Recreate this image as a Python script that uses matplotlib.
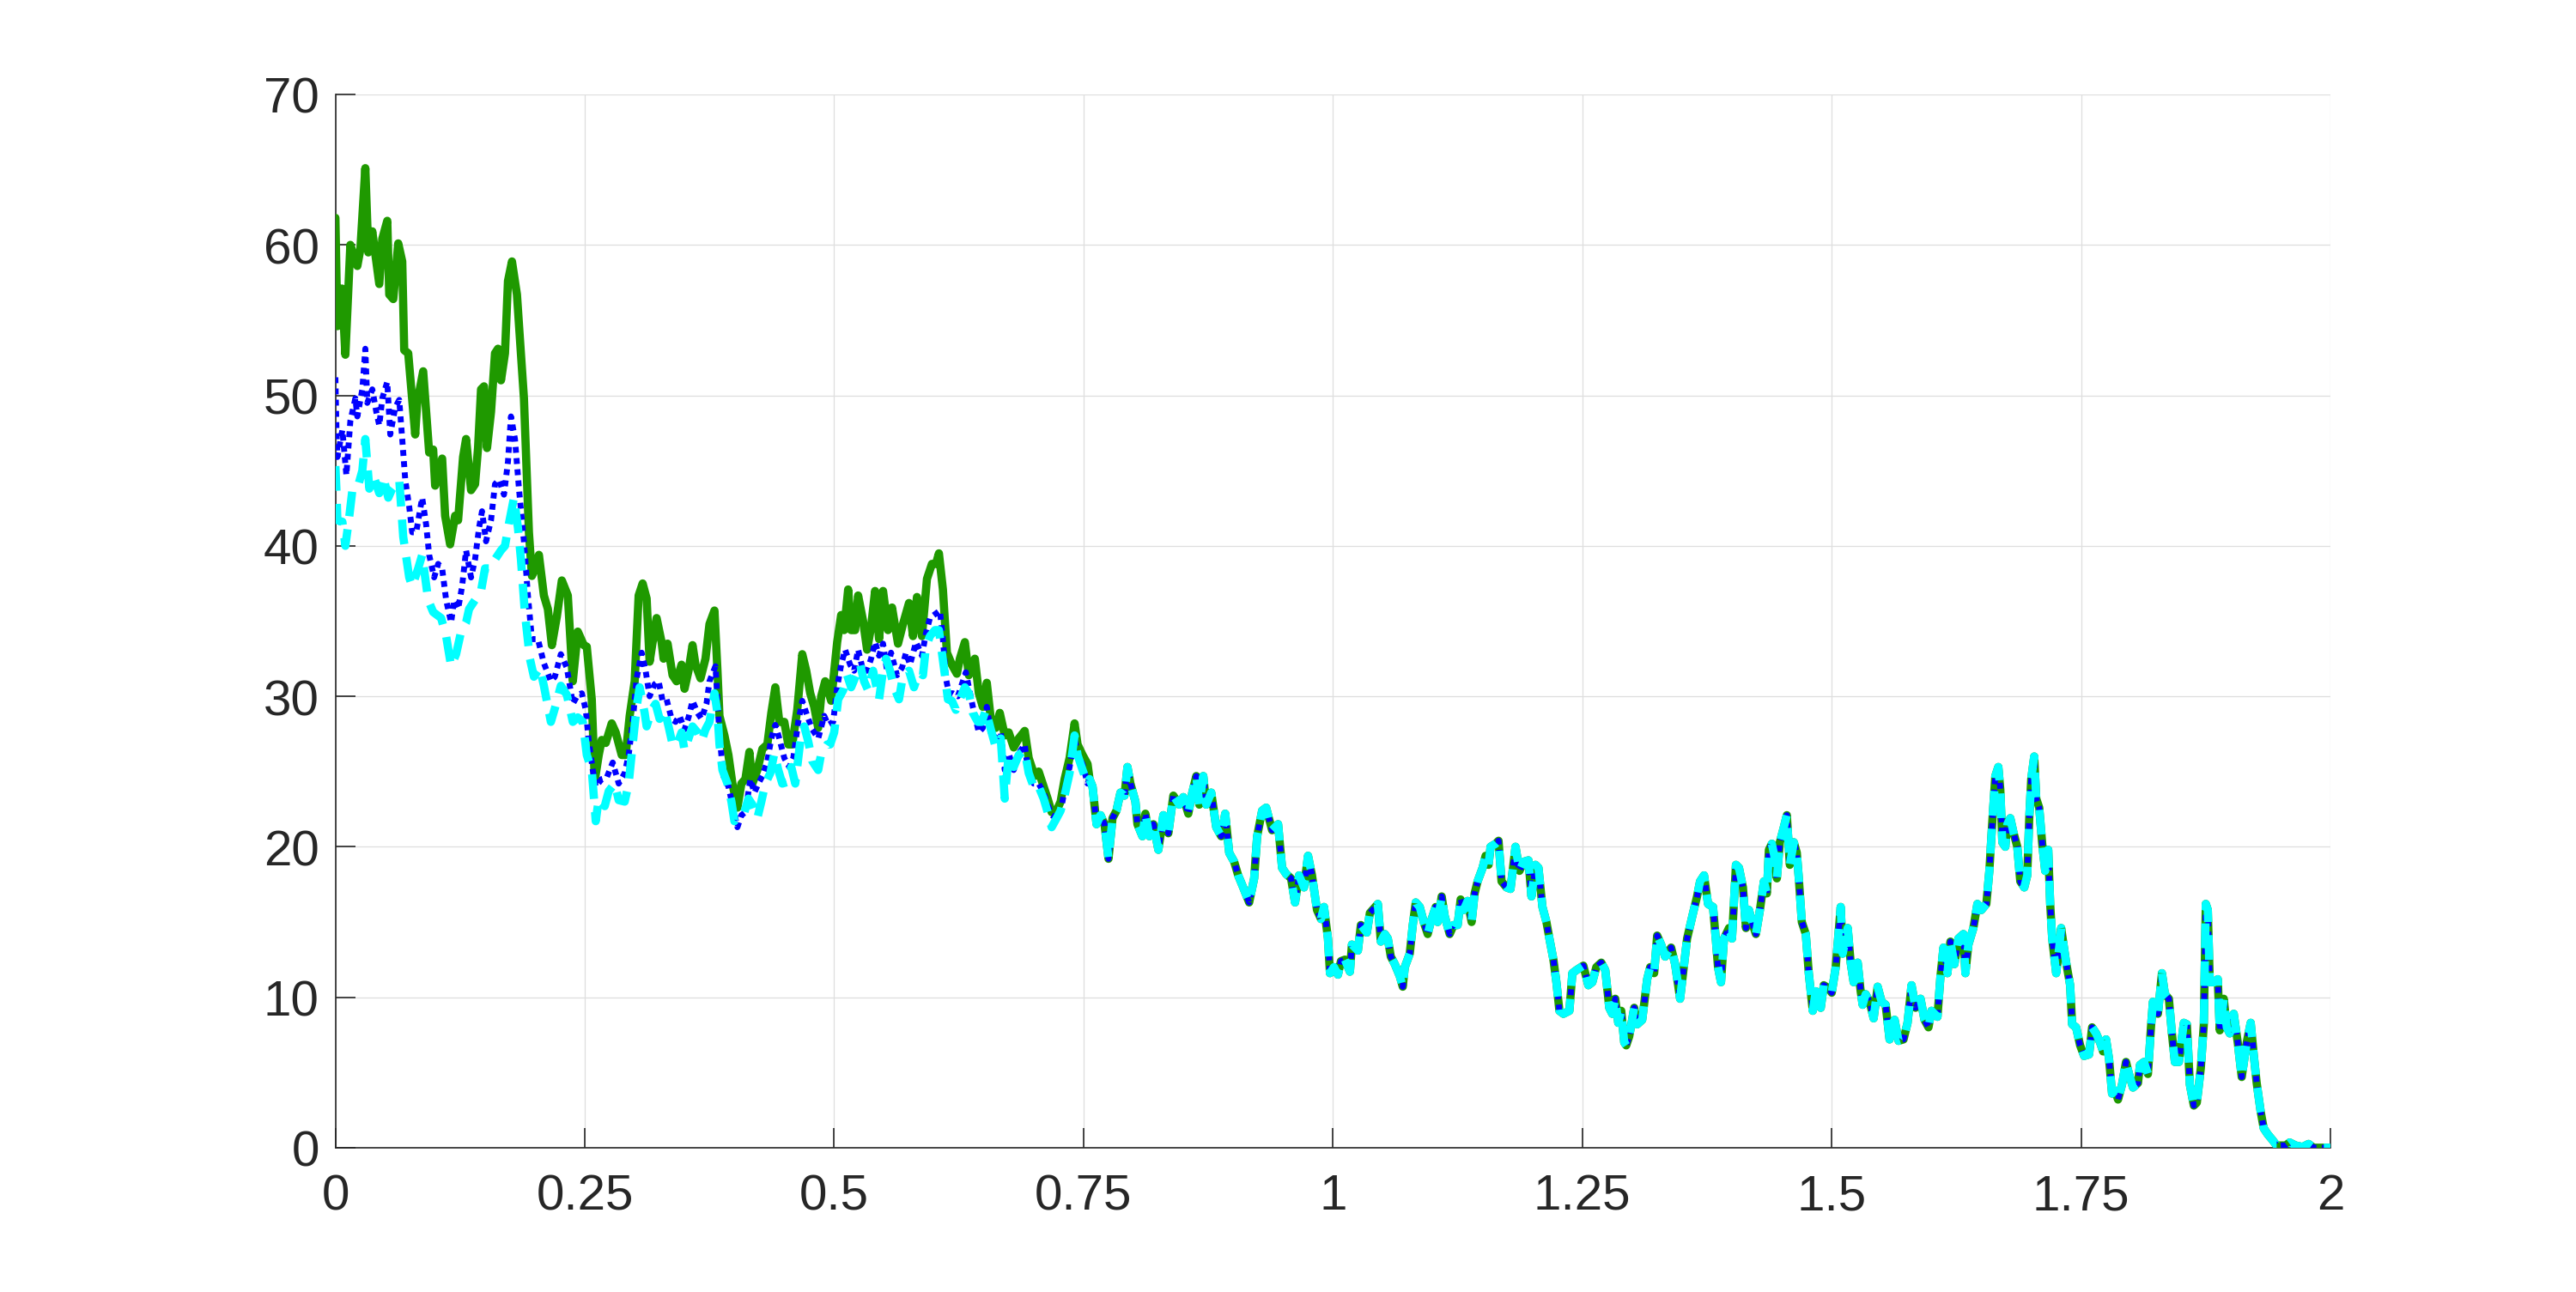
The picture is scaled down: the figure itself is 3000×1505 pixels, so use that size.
import numpy as np
import matplotlib
matplotlib.use('Agg')
import matplotlib.pyplot as plt
from matplotlib.ticker import FuncFormatter

plt.rcParams['font.family'] = ['Liberation Sans', 'DejaVu Sans']

# --- early part, where the three curves differ ---
t_green = [0, 0.002, 0.0066, 0.010, 0.015, 0.022, 0.025, 0.030, 0.033, 0.037, 0.044, 0.047, 0.052,
           0.054, 0.058, 0.063, 0.067, 0.069, 0.073, 0.080, 0.082, 0.088, 0.094, 0.098, 0.100, 0.107,
           0.110, 0.115, 0.120, 0.123, 0.128, 0.131, 0.136, 0.140, 0.143, 0.146, 0.149, 0.152, 0.156,
           0.160, 0.163, 0.166, 0.170, 0.173, 0.177, 0.182, 0.189, 0.194, 0.197, 0.200, 0.204, 0.209,
           0.213, 0.217, 0.222, 0.227, 0.233, 0.238, 0.243, 0.249,
           0.252, 0.257, 0.260, 0.264, 0.267, 0.271, 0.277, 0.281, 0.287, 0.291, 0.295, 0.300, 0.304,
           0.308, 0.312, 0.315, 0.318, 0.322, 0.327, 0.329, 0.333, 0.338, 0.342, 0.347, 0.350, 0.354,
           0.358, 0.361, 0.366, 0.371, 0.375, 0.380, 0.383, 0.385, 0.390, 0.394, 0.398, 0.403, 0.407,
           0.411, 0.415, 0.418, 0.423, 0.428, 0.433, 0.437, 0.441, 0.445, 0.450, 0.454, 0.458, 0.463,
           0.468, 0.472, 0.476, 0.480, 0.484, 0.487, 0.491,
           0.497, 0.503, 0.507, 0.510, 0.514, 0.517, 0.521, 0.524, 0.529, 0.533, 0.537, 0.541, 0.545,
           0.549, 0.554, 0.558, 0.564, 0.569, 0.575, 0.579, 0.583, 0.588, 0.593, 0.598, 0.602, 0.605,
           0.609, 0.613, 0.618, 0.623, 0.626, 0.631, 0.635, 0.641, 0.645, 0.649, 0.653, 0.657, 0.662,
           0.666, 0.671, 0.675, 0.680, 0.685, 0.691, 0.695, 0.701, 0.705, 0.710, 0.714, 0.718, 0.723,
           0.727, 0.731, 0.736, 0.741, 0.744, 0.749, 0.754]
y_green = [61.8, 54.6, 57.1, 52.7, 60.0, 58.6, 59.7, 65.1, 59.5, 60.9, 57.4, 60.4, 61.6,
           56.7, 56.4, 60.1, 58.9, 53.0, 52.8, 47.4, 49.5, 51.6, 46.2, 46.4, 44.0, 45.8,
           42.0, 40.1, 42.0, 41.7, 45.9, 47.1, 43.7, 44.1, 46.5, 50.4, 50.6, 46.5, 48.9,
           52.8, 53.1, 51.0, 52.8, 57.6, 58.9, 56.7, 49.8, 40.9, 38.0, 38.5, 39.4, 36.7,
           35.8, 33.4, 35.3, 37.7, 36.7, 31.0, 34.3, 33.4,
           33.3, 29.8, 24.4, 26.1, 27.1, 26.9, 28.2, 27.6, 26.1, 26.1, 28.7, 31.0, 36.7,
           37.5, 36.5, 32.3, 33.6, 35.2, 33.6, 32.5, 33.5, 31.4, 31.0, 32.1, 30.5, 31.7,
           33.4, 32.1, 31.2, 32.5, 34.8, 35.7, 31.7, 28.7, 27.4, 26.1, 24.2, 22.6, 24.2,
           24.5, 26.3, 24.2, 25.1, 26.5, 26.8, 28.9, 30.6, 28.3, 28.3, 26.8, 26.8, 29.1,
           32.8, 31.7, 30.2, 29.3, 27.9, 30.0, 31.0,
           29.7, 33.6, 35.4, 34.4, 37.1, 34.4, 34.4, 36.7, 35.0, 33.1, 34.6, 37.0, 33.8,
           37.0, 34.4, 35.9, 33.5, 34.8, 36.2, 34.0, 36.6, 34.0, 37.8, 38.8, 38.8, 39.5,
           37.1, 32.9, 32.1, 31.5, 32.5, 33.6, 31.4, 32.5, 30.2, 29.3, 30.9, 28.5, 27.9,
           28.9, 27.4, 27.6, 26.6, 27.2, 27.7, 25.9, 24.7, 25.0, 24.0, 23.2, 22.3, 22.4,
           23.0, 24.5, 25.9, 28.2, 26.8, 26.1, 25.5]

t_blue = [0, 0.001, 0.002, 0.007, 0.011, 0.015, 0.020, 0.022, 0.027, 0.030, 0.032, 0.037, 0.041,
          0.044, 0.047, 0.052, 0.055, 0.060, 0.064, 0.067, 0.070, 0.074, 0.077, 0.081, 0.087, 0.091,
          0.094, 0.099, 0.103, 0.107, 0.111, 0.116, 0.119, 0.123, 0.127, 0.131, 0.136, 0.140, 0.144,
          0.147, 0.151, 0.156, 0.160, 0.164, 0.169, 0.173, 0.176, 0.180, 0.184, 0.189, 0.193, 0.197,
          0.203, 0.209, 0.216, 0.220, 0.226, 0.232, 0.238, 0.243,
          0.247, 0.251, 0.254, 0.258, 0.261, 0.267, 0.272, 0.278, 0.284, 0.290, 0.294, 0.298, 0.302,
          0.307, 0.311, 0.315, 0.320, 0.324, 0.328, 0.332, 0.337, 0.341, 0.345, 0.350, 0.354, 0.358,
          0.363, 0.367, 0.372, 0.375, 0.381, 0.383, 0.385, 0.389, 0.394, 0.398, 0.403, 0.407, 0.411,
          0.416, 0.420, 0.424, 0.428, 0.433, 0.437, 0.441, 0.445, 0.450, 0.455, 0.459, 0.464, 0.468,
          0.473, 0.478, 0.484, 0.490,
          0.494, 0.499, 0.503, 0.507, 0.511, 0.516, 0.520, 0.524, 0.529, 0.533, 0.537, 0.541, 0.545,
          0.549, 0.553, 0.557, 0.563, 0.568, 0.572, 0.576, 0.582, 0.588, 0.592, 0.596, 0.602, 0.606,
          0.609, 0.612, 0.615, 0.619, 0.624, 0.628, 0.632, 0.635, 0.639, 0.645, 0.649, 0.653, 0.657,
          0.662, 0.667, 0.671, 0.675, 0.680, 0.685, 0.691, 0.695, 0.700, 0.705, 0.710, 0.714, 0.718,
          0.723, 0.727, 0.731, 0.736, 0.741, 0.744, 0.749, 0.754]
y_blue = [51.2, 48.0, 45.9, 47.7, 44.7, 48.3, 49.8, 48.6, 50.4, 53.1, 49.5, 50.4, 48.9,
          48.0, 49.8, 50.9, 47.4, 49.2, 49.7, 47.1, 44.4, 42.6, 40.9, 40.9, 43.2, 41.4,
          39.4, 37.9, 38.8, 38.5, 36.4, 34.9, 36.4, 35.8, 37.3, 39.7, 37.9, 39.1, 41.2,
          42.3, 40.3, 41.7, 44.1, 44.4, 43.4, 45.6, 48.6, 47.1, 43.8, 40.3, 36.7, 33.8,
          33.8, 32.2, 31.0, 31.3, 32.8, 31.9, 29.5, 30.1,
          30.2, 29.1, 27.0, 25.1, 24.0, 24.5, 24.6, 25.6, 24.2, 24.9, 26.1, 28.3, 31.2,
          32.9, 31.7, 30.0, 30.8, 31.0, 29.7, 29.8, 28.5, 28.3, 28.7, 27.8, 28.6, 29.7,
          28.9, 28.5, 29.5, 31.0, 32.0, 29.8, 27.4, 24.7, 24.0, 22.8, 21.3, 22.1, 22.3,
          24.5, 23.6, 24.2, 24.7, 25.7, 27.2, 28.1, 27.2, 25.9, 25.3, 25.9, 28.3, 29.7,
          28.7, 27.8, 27.2, 28.7,
          28.1, 28.3, 30.6, 32.1, 33.1, 32.1, 31.7, 33.1, 31.7, 31.7, 32.5, 33.6, 32.7,
          33.5, 31.7, 32.9, 31.4, 31.9, 32.9, 32.1, 33.6, 32.7, 34.2, 35.2, 35.5, 35.7,
          33.8, 31.2, 30.2, 30.2, 30.0, 30.8, 31.6, 30.6, 29.3, 27.6, 27.9, 29.3, 27.6,
          27.2, 27.6, 25.1, 26.2, 25.1, 26.2, 26.8, 24.7, 24.2, 24.2, 23.6, 22.8, 22.1,
          21.9, 22.3, 23.8, 25.3, 27.2, 26.2, 25.5, 24.2]

t_cyan = [0, 0.001, 0.002, 0.007, 0.010, 0.014, 0.017, 0.022, 0.027, 0.030, 0.034, 0.038, 0.044,
          0.048, 0.053, 0.057, 0.064, 0.068, 0.074, 0.077, 0.083, 0.087, 0.093, 0.098, 0.106, 0.111,
          0.116, 0.121, 0.126, 0.131, 0.134, 0.140, 0.146, 0.150, 0.156, 0.160, 0.166, 0.170, 0.174,
          0.179, 0.183, 0.186, 0.190, 0.195, 0.199, 0.205, 0.209, 0.216, 0.220, 0.226, 0.232, 0.238,
          0.243,
          0.248, 0.252, 0.257, 0.261, 0.264, 0.270, 0.274, 0.280, 0.284, 0.290, 0.294, 0.298, 0.302,
          0.305, 0.310, 0.312, 0.317, 0.321, 0.325, 0.330, 0.334, 0.338, 0.342, 0.347, 0.350, 0.354,
          0.358, 0.363, 0.367, 0.371, 0.375, 0.380, 0.383, 0.385, 0.388, 0.393, 0.397, 0.400, 0.404,
          0.410, 0.414, 0.418, 0.423, 0.427, 0.431, 0.436, 0.440, 0.444, 0.448, 0.453, 0.457, 0.461,
          0.466, 0.470, 0.474, 0.478, 0.484, 0.487, 0.493,
          0.496, 0.500, 0.504, 0.509, 0.513, 0.517, 0.522, 0.526, 0.530, 0.534, 0.539, 0.545, 0.549,
          0.552, 0.556, 0.560, 0.565, 0.569, 0.575, 0.580, 0.585, 0.589, 0.592, 0.596, 0.601, 0.605,
          0.608, 0.611, 0.614, 0.618, 0.622, 0.626, 0.631, 0.635, 0.639, 0.644, 0.648, 0.652, 0.657,
          0.662, 0.667, 0.671, 0.675, 0.680, 0.685, 0.691, 0.695, 0.701, 0.705, 0.710, 0.714, 0.718,
          0.723, 0.727, 0.731, 0.736, 0.741, 0.744, 0.749, 0.754]
y_cyan = [45.3, 43.8, 41.7, 41.6, 40.0, 42.0, 43.7, 43.8, 45.0, 47.1, 43.8, 44.7, 43.5,
          44.6, 43.2, 43.8, 44.4, 40.6, 37.9, 37.3, 38.5, 39.4, 36.4, 35.6, 35.2, 34.0,
          32.0, 32.8, 34.3, 34.9, 35.8, 36.4, 37.0, 38.5, 38.5, 39.1, 39.7, 40.0, 41.5,
          43.2, 41.2, 39.1, 35.5, 32.5, 31.3, 31.9, 30.7, 28.3, 29.2, 30.7, 30.1, 28.3,
          28.6,
          28.3, 26.1, 25.1, 21.7, 23.2, 22.7, 23.7, 24.2, 23.1, 23.0, 24.2, 26.8, 29.3,
          30.6, 28.9, 28.0, 29.1, 29.5, 28.5, 29.1, 28.0, 26.8, 26.7, 27.6, 26.4, 27.2,
          28.0, 27.6, 27.0, 27.8, 28.3, 30.2, 28.9, 26.8, 25.1, 24.2, 23.0, 21.7, 22.1,
          22.3, 23.2, 22.8, 21.9, 23.0, 24.2, 24.9, 26.2, 25.1, 24.2, 24.3, 25.3, 24.2,
          27.0, 28.0, 27.0, 25.7, 25.1, 26.2, 26.8,
          26.8, 27.6, 29.8, 30.4, 31.4, 30.6, 31.4, 32.1, 31.0, 30.4, 31.7, 29.8, 31.7,
          32.5, 31.7, 30.6, 29.8, 31.4, 31.7, 30.6, 31.6, 31.4, 33.3, 34.0, 34.4, 34.4,
          32.9, 31.4, 29.8, 29.7, 29.1, 29.8, 30.6, 30.2, 28.9, 28.3, 28.3, 29.1, 27.8,
          26.6, 27.2, 23.2, 26.2, 25.3, 26.1, 26.4, 24.9, 23.8, 24.0, 23.2, 22.3, 21.3,
          21.9, 22.4, 23.4, 24.9, 27.4, 26.1, 25.1, 24.2]

# --- later part, where the three curves coincide ---
t_tail = [0.756, 0.759, 0.763, 0.767, 0.771, 0.775, 0.779, 0.783, 0.787, 0.791, 0.794, 0.797, 0.802,
          0.804, 0.809, 0.812, 0.816, 0.820, 0.825, 0.830, 0.835, 0.840, 0.846, 0.850, 0.855, 0.859,
          0.863, 0.866, 0.870, 0.873, 0.878, 0.883, 0.888, 0.892, 0.896, 0.901, 0.905, 0.910, 0.916,
          0.921, 0.924, 0.929, 0.933, 0.939, 0.945, 0.949, 0.953, 0.958, 0.962, 0.966, 0.971, 0.975,
          0.979, 0.984, 0.988, 0.991, 0.995, 0.997,
          1.001, 1.005, 1.008, 1.012, 1.017, 1.019, 1.025, 1.028, 1.034, 1.037, 1.041, 1.045, 1.048,
          1.052, 1.055, 1.058, 1.062, 1.067, 1.070, 1.072, 1.077, 1.080, 1.083, 1.087, 1.091, 1.095,
          1.098, 1.103, 1.105, 1.109, 1.112, 1.117, 1.121, 1.125, 1.128, 1.131, 1.135, 1.139, 1.142,
          1.145, 1.150, 1.153, 1.156, 1.158, 1.163, 1.166, 1.169, 1.174, 1.178, 1.183, 1.187, 1.191,
          1.196, 1.199, 1.203, 1.206, 1.210, 1.214, 1.217, 1.221, 1.224, 1.227, 1.231, 1.237, 1.240,
          1.244,
          1.251, 1.256, 1.260, 1.264, 1.269, 1.273, 1.277, 1.280, 1.283, 1.286, 1.289, 1.292, 1.294,
          1.297, 1.302, 1.305, 1.310, 1.315, 1.318, 1.322, 1.325, 1.329, 1.333, 1.339, 1.343, 1.348,
          1.351, 1.355, 1.361, 1.365, 1.368, 1.372, 1.376, 1.381, 1.384, 1.386, 1.389, 1.392, 1.397,
          1.400, 1.404, 1.407, 1.411, 1.414, 1.417, 1.421, 1.424, 1.428, 1.432, 1.435, 1.437, 1.440,
          1.443, 1.445, 1.448, 1.452, 1.455, 1.458, 1.462, 1.465, 1.467, 1.470, 1.474, 1.477, 1.481,
          1.484, 1.489, 1.492, 1.497,
          1.500, 1.504, 1.509, 1.511, 1.516, 1.519, 1.522, 1.526, 1.529, 1.531, 1.534, 1.538, 1.542,
          1.546, 1.550, 1.554, 1.558, 1.563, 1.567, 1.572, 1.576, 1.580, 1.584, 1.589, 1.593, 1.597,
          1.600, 1.606, 1.609, 1.612, 1.616, 1.619, 1.623, 1.627, 1.632, 1.634, 1.637, 1.642, 1.646,
          1.650, 1.655, 1.658, 1.661, 1.664, 1.667, 1.669, 1.671, 1.674, 1.676, 1.679, 1.682, 1.686,
          1.689, 1.693, 1.696, 1.698, 1.700, 1.703, 1.705, 1.708, 1.711, 1.714, 1.717, 1.719, 1.721,
          1.725, 1.728, 1.730, 1.735, 1.739, 1.741, 1.745, 1.749,
          1.753, 1.758, 1.761, 1.765, 1.769, 1.772, 1.775, 1.778, 1.781, 1.784, 1.787, 1.791, 1.795,
          1.798, 1.802, 1.807, 1.809, 1.813, 1.817, 1.820, 1.822, 1.827, 1.831, 1.834, 1.838, 1.841,
          1.844, 1.848, 1.853, 1.856, 1.859, 1.863, 1.866, 1.870, 1.873, 1.875, 1.877, 1.879, 1.883,
          1.887, 1.889, 1.893, 1.896, 1.899, 1.903, 1.907, 1.911, 1.916, 1.920, 1.923, 1.926, 1.930,
          1.933, 1.937, 1.942, 1.946, 1.955, 1.959, 1.965, 1.972, 1.978, 1.983, 2.0]
y_tail = [24.5, 24.0, 21.5, 22.1, 21.5, 19.2, 21.9, 22.4, 23.6, 23.4, 25.3, 24.2, 23.0,
          21.5, 20.7, 22.2, 20.7, 21.5, 19.8, 22.1, 20.9, 23.4, 22.8, 23.3, 22.2, 23.6,
          24.7, 22.8, 24.7, 22.8, 23.6, 21.3, 20.7, 22.2, 19.6, 19.0, 18.1, 17.3, 16.3,
          17.9, 20.7, 22.4, 22.6, 21.1, 21.5, 18.6, 18.2, 17.9, 16.3, 18.1, 17.3, 19.4,
          18.1, 15.8, 15.2, 16.0, 13.9, 11.6,
          12.0, 11.5, 12.4, 12.5, 11.7, 13.5, 13.1, 14.8, 14.3, 15.6, 15.9, 16.2, 13.7,
          14.2, 13.9, 12.7, 12.2, 11.4, 10.7, 12.0, 12.9, 14.8, 16.3, 16.0, 15.0, 14.2,
          15.0, 16.0, 15.0, 16.7, 15.4, 14.2, 14.8, 14.8, 16.5, 15.8, 16.4, 15.0, 16.9,
          17.7, 18.6, 19.4, 18.8, 20.0, 20.2, 20.4, 17.7, 17.3, 17.2, 20.0, 18.4, 19.0,
          19.1, 16.7, 18.8, 18.6, 16.0, 15.0, 13.9, 12.5, 11.0, 9.1, 8.9, 9.1, 11.6,
          11.8,
          12.1, 10.8, 11.0, 12.0, 12.3, 11.8, 9.3, 8.9, 9.9, 8.3, 9.1, 7.0, 6.8,
          7.4, 9.3, 8.2, 8.5, 11.2, 12.0, 11.6, 14.1, 13.5, 12.7, 13.3, 12.2, 9.9,
          11.6, 13.9, 15.6, 16.7, 17.7, 18.1, 16.2, 16.0, 13.7, 12.0, 11.0, 13.9, 14.6,
          13.9, 18.8, 18.6, 17.3, 14.6, 15.8, 14.8, 14.2, 15.8, 17.7, 16.9, 19.8, 20.2,
          19.2, 17.9, 20.3, 21.3, 22.1, 18.8, 20.3, 19.6, 17.9, 15.0, 14.2, 11.6, 9.1,
          10.4, 9.3, 10.8, 10.6,
          10.3, 12.0, 16.0, 12.9, 14.6, 12.3, 11.0, 12.3, 10.4, 9.5, 10.2, 9.7, 8.6,
          10.7, 9.7, 9.5, 7.2, 8.5, 7.1, 7.2, 8.3, 10.8, 9.3, 9.9, 8.5, 8.0,
          9.1, 8.7, 11.4, 13.3, 11.6, 13.7, 12.2, 13.9, 14.2, 11.6, 13.5, 14.6, 16.2,
          15.8, 16.2, 18.4, 21.7, 24.7, 25.3, 23.8, 20.3, 20.0, 21.5, 21.9, 21.0, 20.0,
          17.7, 17.3, 18.1, 21.9, 24.5, 26.0, 23.2, 22.6, 20.2, 18.4, 19.8, 16.2, 13.9,
          11.6, 13.3, 14.6, 12.3, 10.8, 8.2, 8.0, 6.8,
          6.1, 6.2, 8.0, 7.6, 7.0, 6.4, 7.2, 5.9, 3.6, 3.8, 3.2, 4.2, 5.7,
          4.9, 4.0, 4.3, 5.5, 5.7, 4.9, 8.0, 9.7, 8.9, 11.6, 10.2, 9.9, 7.6,
          5.7, 5.7, 8.3, 8.2, 4.2, 2.8, 3.0, 5.3, 8.2, 16.2, 15.8, 11.0, 11.0,
          11.2, 7.8, 9.9, 8.0, 7.6, 8.9, 7.0, 4.7, 7.0, 8.3, 6.2, 4.3, 2.4,
          1.3, 0.9, 0.5, 0.15, 0.15, 0.35, 0.15, 0.05, 0.25, 0.0, 0.0]

x_ticks = [0, 0.25, 0.5, 0.75, 1, 1.25, 1.5, 1.75, 2]
y_ticks = [0, 10, 20, 30, 40, 50, 60, 70]

fig = plt.figure(figsize=(20, 10.04), dpi=150)
ax = fig.add_axes([0.1302, 0.1116, 0.7745, 0.8147])

ax.plot(t_green + t_tail, y_green + y_tail, color='#1f9900', lw=4.6,
        solid_joinstyle='round', solid_capstyle='round', zorder=3)
ax.plot(t_blue + t_tail, y_blue + y_tail, color='#0000ff', lw=3.3,
        linestyle=(0, (1.0, 0.9)), zorder=4)
ax.plot(t_cyan + t_tail, y_cyan + y_tail, color='#00ffff', lw=4.6,
        linestyle=(0, (3.0, 1.6)), zorder=5)

ax.set_xlim(0, 2)
ax.set_ylim(0, 70)
ax.set_xticks(x_ticks)
ax.set_yticks(y_ticks)
ax.xaxis.set_major_formatter(FuncFormatter(lambda v, p: '%g' % v))

ax.grid(True, color='#dedede', lw=0.6)
ax.set_axisbelow(True)
for s in ['top', 'right']:
    ax.spines[s].set_visible(False)
for s in ['left', 'bottom']:
    ax.spines[s].set_color('#262626')
    ax.spines[s].set_linewidth(0.8)

ax.tick_params(direction='in', length=11, width=0.8, color='#262626',
               labelcolor='#262626', labelsize=28)
ax.tick_params(axis='x', pad=14)
ax.tick_params(axis='y', pad=9)

fig.savefig('out.png', dpi=150, facecolor='white')
